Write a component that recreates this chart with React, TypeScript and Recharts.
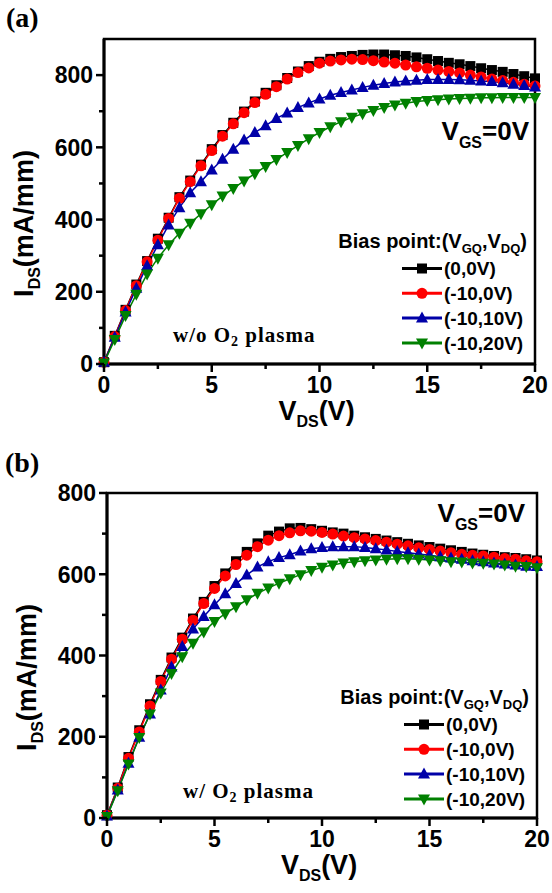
import React from 'react';
import { LineChart, Line, XAxis, YAxis, ReferenceArea, Legend, Label } from 'recharts';

// drain voltage sweep, V
const vds = [
  0, 0.5, 1, 1.5, 2, 2.5, 3, 3.5, 4, 4.5,
  5, 5.5, 6, 6.5, 7, 7.5, 8, 8.5, 9, 9.5,
  10, 10.5, 11, 11.5, 12, 12.5, 13, 13.5, 14, 14.5,
  15, 15.5, 16, 16.5, 17, 17.5, 18, 18.5, 19, 19.5, 20,
];

// (a) w/o O2 plasma, mA/mm
const aBias00 = [5, 78, 150, 220, 285, 347, 405, 462, 508, 552, 595, 634, 668, 699, 727, 751, 772, 792, 810, 825, 837, 845, 850, 853, 856, 857, 857, 855, 853, 849, 844, 839, 834, 830, 825, 819, 814, 809, 803, 797, 791];
const aBias10_0 = [5, 76, 148, 217, 283, 343, 403, 459, 505, 549, 591, 631, 665, 696, 724, 747, 768, 789, 807, 820, 833, 839, 842, 844, 843, 840, 836, 833, 828, 823, 819, 814, 810, 806, 800, 795, 789, 785, 780, 775, 770];
const aBias10_10 = [5, 74, 144, 210, 272, 330, 385, 433, 474, 505, 537, 567, 595, 620, 641, 660, 680, 695, 710, 723, 734, 744, 752, 759, 766, 772, 777, 781, 784, 786, 788, 788, 788, 787, 786, 784, 782, 779, 775, 771, 767];
const aBias10_20 = [3, 68, 134, 193, 249, 293, 330, 362, 390, 416, 441, 465, 486, 507, 527, 547, 566, 586, 605, 624, 641, 657, 671, 683, 693, 702, 710, 717, 722, 727, 730, 732, 734, 735, 736, 737, 737, 738, 738, 738, 738];

// (b) w/ O2 plasma, mA/mm
const bBias00 = [7, 75, 150, 216, 280, 340, 395, 444, 491, 532, 571, 602, 632, 655, 676, 695, 705, 713, 714, 711, 707, 703, 700, 695, 691, 687, 683, 679, 675, 671, 667, 663, 659, 655, 651, 648, 645, 642, 640, 637, 634];
const bBias10_0 = [7, 73, 147, 212, 276, 336, 391, 440, 487, 528, 565, 596, 624, 647, 668, 684, 695, 702, 707, 706, 703, 699, 694, 690, 687, 683, 679, 674, 670, 665, 661, 657, 653, 649, 647, 645, 642, 639, 637, 633, 631];
const bBias10_10 = [5, 69, 135, 199, 256, 315, 372, 422, 465, 496, 525, 552, 577, 598, 618, 631, 641, 648, 657, 663, 666, 668, 668, 668, 666, 663, 660, 656, 653, 650, 647, 643, 640, 637, 633, 631, 628, 625, 623, 620, 619];
const bBias10_20 = [4, 67, 133, 198, 256, 308, 356, 397, 430, 458, 484, 503, 520, 537, 553, 566, 578, 589, 599, 609, 617, 623, 628, 631, 633, 635, 637, 638, 638, 637, 635, 633, 631, 630, 628, 627, 625, 623, 620, 619, 616];

const seriesNames = ['(0,0V)', '(-10,0V)', '(-10,10V)', '(-10,20V)'];
const seriesColors = ['#000000', '#ff0000', '#0000a8', '#008000'];
const seriesShapes = ['square', 'circle', 'up', 'down'];

const xTicks = [0, 2.5, 5, 7.5, 10, 12.5, 15, 17.5, 20];
const yTicks = [0, 100, 200, 300, 400, 500, 600, 700, 800];

const SANS = '"Liberation Sans", Arial, Helvetica, sans-serif';
const SERIF = '"Liberation Serif", "Times New Roman", serif';

const Marker = ({ shape, cx, cy, color }: any) => {
  if (cx == null || cy == null) return null;
  if (shape === 'square') return <rect x={cx - 5} y={cy - 5} width={10} height={10} fill={color} />;
  if (shape === 'circle') return <circle cx={cx} cy={cy} r={5.5} fill={color} />;
  if (shape === 'up')
    return <polygon points={`${cx},${cy - 6.5} ${cx - 6},${cy + 4.5} ${cx + 6},${cy + 4.5}`} fill={color} />;
  return <polygon points={`${cx},${cy + 6.5} ${cx - 6},${cy - 4.5} ${cx + 6},${cy - 4.5}`} fill={color} />;
};

const XTick = ({ x, y, payload }: any) => {
  const major = payload.value % 5 === 0;
  return (
    <g>
      <line x1={x} y1={y} x2={x} y2={y + (major ? 8 : 5)} stroke="#000" strokeWidth={2.5} />
      {major && (
        <text x={x} y={y + 13} dy="0.71em" textAnchor="middle" fontSize={23} fontWeight="bold" fontFamily={SANS} fill="#000">
          {payload.value}
        </text>
      )}
    </g>
  );
};

const YTick = ({ x, y, payload }: any) => {
  const major = payload.value % 200 === 0;
  return (
    <g>
      <line x1={x - (major ? 8 : 5)} y1={y} x2={x} y2={y} stroke="#000" strokeWidth={2.5} />
      {major && (
        <text x={x - 11} y={y} dy="0.36em" textAnchor="end" fontSize={23} fontWeight="bold" fontFamily={SANS} fill="#000">
          {payload.value}
        </text>
      )}
    </g>
  );
};

const XTitle = ({ viewBox }: any) => (
  <text x={viewBox.x + viewBox.width / 2 - 3} y={viewBox.y + 55.5} textAnchor="middle" fontSize={27} fontWeight="bold" fontFamily={SANS} fill="#000">
    V<tspan fontSize={16} dy={7}>DS</tspan>
    <tspan dy={-7}>(V)</tspan>
  </text>
);

const YTitle = ({ viewBox }: any) => {
  const cx = viewBox.x + viewBox.width - 71;
  const cy = viewBox.y + viewBox.height / 2 + 22;
  return (
    <text transform={`translate(${cx},${cy}) rotate(-90)`} textAnchor="middle" fontSize={27} fontWeight="bold" fontFamily={SANS} fill="#000">
      I<tspan fontSize={16} dy={7}>DS</tspan>
      <tspan dy={-7}>(mA/mm)</tspan>
    </text>
  );
};

const BiasLegend = () => (
  <svg width={210} height={135} style={{ display: 'block' }}>
    <text x={197} y={26} textAnchor="end" fontSize={20} fontWeight="bold" fontFamily={SANS} fill="#000">
      Bias point:(V<tspan fontSize={13} dy={5}>GQ</tspan>
      <tspan dy={-5}>,V</tspan>
      <tspan fontSize={13} dy={5}>DQ</tspan>
      <tspan dy={-5}>)</tspan>
    </text>
    {seriesNames.map((name, i) => {
      const cy = 46.5 + i * 24.8;
      return (
        <g key={name}>
          <line x1={72} y1={cy} x2={112} y2={cy} stroke={seriesColors[i]} strokeWidth={3} />
          <Marker shape={seriesShapes[i]} cx={92} cy={cy} color={seriesColors[i]} />
          <text x={114} y={cy} dy="0.36em" fontSize={19} fontWeight="bold" fontFamily={SANS} fill="#000">
            {name}
          </text>
        </g>
      );
    })}
  </svg>
);

const Panel = ({ series, yMax, height, margin, legendPos, tag, vgs, plasma }: any) => {
  const data = vds.map((v, i) => ({
    vds: v,
    s0: series[0][i],
    s1: series[1][i],
    s2: series[2][i],
    s3: series[3][i],
  }));
  return (
    <div style={{ position: 'relative', width: 552, height }}>
      <LineChart width={552} height={height} data={data} margin={margin}>
        <ReferenceArea x1={0} x2={20} y1={0} y2={yMax} fill="none" stroke="#000" strokeWidth={2.5} />
        <XAxis
          dataKey="vds"
          type="number"
          domain={[0, 20]}
          ticks={xTicks}
          interval={0}
          height={30}
          tickSize={0}
          tickMargin={0}
          tickLine={false}
          axisLine={{ stroke: '#000', strokeWidth: 3 }}
          tick={<XTick />}
        >
          <Label content={<XTitle />} />
        </XAxis>
        <YAxis
          type="number"
          domain={[0, yMax]}
          ticks={yTicks}
          interval={0}
          width={60}
          tickSize={0}
          tickMargin={0}
          tickLine={false}
          axisLine={{ stroke: '#000', strokeWidth: 3 }}
          tick={<YTick />}
        >
          <Label content={<YTitle />} />
        </YAxis>
        <Legend
          layout="horizontal"
          verticalAlign="middle"
          align="center"
          content={<BiasLegend />}
          wrapperStyle={{ left: legendPos.left, top: legendPos.top, width: 210, height: 135 }}
        />
        {[0, 1, 2, 3].map((k) => (
          <Line
            key={k}
            dataKey={`s${k}`}
            name={seriesNames[k]}
            stroke={seriesColors[k]}
            strokeWidth={1.5}
            isAnimationActive={false}
            dot={(p: any) => <Marker key={`d${k}-${p.index}`} shape={seriesShapes[k]} cx={p.cx} cy={p.cy} color={seriesColors[k]} />}
            activeDot={false}
          />
        ))}
      </LineChart>
      <svg width={552} height={height} style={{ position: 'absolute', left: 0, top: 0, pointerEvents: 'none' }}>
        <text x={tag.x} y={tag.y} fontSize={28} fontWeight="bold" fontFamily={SERIF} fill="#000">
          {tag.text}
        </text>
        <text x={vgs.x} y={vgs.y} textAnchor="end" fontSize={26} fontWeight="bold" fontFamily={SANS} fill="#000">
          V<tspan fontSize={16} dy={8}>GS</tspan>
          <tspan dy={-8}>=0V</tspan>
        </text>
        <text x={plasma.x} y={plasma.y} fontSize={21} fontWeight="bold" fontFamily={SERIF} letterSpacing={1} fill="#000">
          {plasma.pre} O<tspan fontSize={14} dy={4}>2</tspan>
          <tspan dy={-4}> plasma</tspan>
        </text>
      </svg>
    </div>
  );
};

export default function App() {
  return (
    <div style={{ position: 'absolute', left: 0, top: 0, width: 552, height: 893, background: '#fff' }}>
      <div style={{ position: 'absolute', left: 0, top: 0 }}>
        <Panel
          series={[aBias00, aBias10_0, aBias10_10, aBias10_20]}
          yMax={900}
          height={440}
          margin={{ top: 39, right: 17, bottom: 46, left: 44 }}
          legendPos={{ left: 330, top: 222 }}
          tag={{ text: '(a)', x: 6, y: 27 }}
          vgs={{ x: 529, y: 140 }}
          plasma={{ pre: 'w/o', x: 173, y: 342 }}
        />
      </div>
      <div style={{ position: 'absolute', left: 0, top: 440 }}>
        <Panel
          series={[bBias00, bBias10_0, bBias10_10, bBias10_20]}
          yMax={800}
          height={453}
          margin={{ top: 53, right: 15, bottom: 45, left: 47 }}
          legendPos={{ left: 332, top: 238 }}
          tag={{ text: '(b)', x: 5, y: 32 }}
          vgs={{ x: 525, y: 82 }}
          plasma={{ pre: 'w/', x: 183, y: 358 }}
        />
      </div>
    </div>
  );
}
